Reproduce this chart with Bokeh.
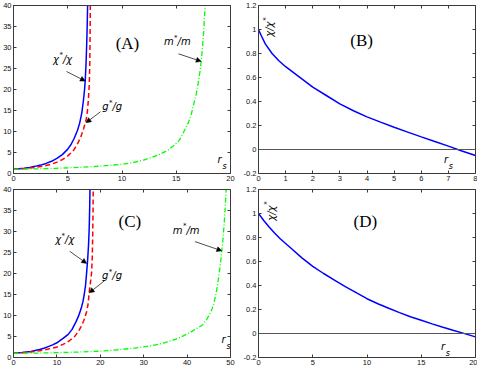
import math
from bokeh.plotting import figure
from bokeh.layouts import gridplot
from bokeh.models import (Range1d, LinearAxis, FixedTicker, Arrow, NormalHead, Span,
                          PrintfTickFormatter, CustomJSTickFormatter)
from bokeh.core.properties import value
from bokeh.embed import file_html
from bokeh.resources import INLINE

# ---------------- data ----------------
# Panel A
a_chi_rs = [0, 0.5, 1, 1.5, 2, 2.5, 3, 3.5, 4, 4.5, 5, 5.3, 5.6, 5.9, 6.1, 6.3, 6.45, 6.55, 6.62, 6.7, 6.76, 6.8, 6.83]
a_chi = [1.0, 1.12, 1.27, 1.45, 1.7, 2.0, 2.4, 2.9, 3.6, 4.5, 5.8, 6.9, 8.4, 10.3, 12.0, 14.5, 17.5, 20.0, 22.5, 27.0, 32.0, 36.0, 40.0]
a_g_rs = [0, 1, 2, 3, 3.5, 4, 4.5, 5, 5.5, 5.8, 6.0, 6.23, 6.45, 6.68, 6.8, 6.9, 6.98, 7.03, 7.06, 7.08]
a_g = [1.0, 1.18, 1.45, 1.9, 2.2, 2.7, 3.3, 4.2, 5.4, 6.6, 7.6, 8.9, 10.6, 12.6, 14.5, 17.5, 21.0, 26.0, 33.0, 40.0]
a_m_rs = [0, 2, 4, 6, 8, 10, 11, 12, 12.7, 13.5, 14.2, 14.9, 15.3, 15.65, 16.1, 16.4, 16.55, 16.85, 17.05, 17.2, 17.3, 17.42, 17.52, 17.6, 17.66]
a_m = [1.0, 1.1, 1.25, 1.45, 1.75, 2.2, 2.6, 3.2, 3.8, 4.6, 5.5, 6.9, 8.0, 9.7, 12.0, 14.2, 15.9, 19.0, 22.0, 24.5, 26.8, 30.0, 33.5, 37.0, 40.0]

# Panel B
b_rs = [0, 0.1, 0.25, 0.5, 0.75, 1, 1.5, 2, 2.5, 3, 3.5, 4, 4.5, 5, 5.5, 6, 6.5, 7, 7.5, 8]
b_val = [1.0, 0.95, 0.88, 0.80, 0.74, 0.69, 0.605, 0.52, 0.45, 0.38, 0.323, 0.272, 0.228, 0.185, 0.145, 0.105, 0.066, 0.028, -0.013, -0.05]

# Panel C
c_chi_rs = [0, 2, 4, 6, 7, 8, 9, 10, 10.7, 11.5, 12.6, 13.5, 14.45, 15, 15.6, 16, 16.3, 16.6, 16.85, 17.1, 17.3, 17.45, 17.55, 17.62]
c_chi = [1.0, 1.2, 1.45, 1.9, 2.2, 2.6, 3.0, 3.5, 4.0, 4.6, 5.5, 6.7, 8.6, 9.9, 11.7, 13.3, 15.0, 17.2, 20.2, 23.5, 27.0, 31.0, 35.5, 40.0]
c_g_rs = [0, 3, 6, 8, 10, 10.7, 12, 13, 14, 14.45, 15, 15.6, 16.2, 16.85, 17.2, 17.45, 17.75, 18.0, 18.15, 18.25, 18.32, 18.37]
c_g = [1.0, 1.2, 1.6, 2.0, 2.5, 2.8, 3.4, 4.1, 4.9, 5.5, 6.3, 7.4, 8.8, 10.9, 12.8, 15.6, 18.0, 20.2, 24.0, 29.0, 34.0, 40.0]
c_m_rs = [0, 5, 10, 15, 20, 24.2, 28, 31.7, 34.5, 37.3, 39, 40.6, 42.2, 43.6, 44.6, 45.5, 46.1, 46.6, 47.0, 47.4, 47.75, 48.0, 48.3, 48.55, 48.8, 49.0]
c_m = [1.0, 1.05, 1.15, 1.3, 1.5, 1.85, 2.25, 2.8, 3.4, 4.3, 5.1, 5.9, 6.9, 7.8, 9.2, 10.9, 12.6, 14.8, 17.2, 20.0, 23.0, 25.4, 28.5, 32.0, 36.0, 40.0]

# Panel D
d_rs = [0, 0.5, 1, 1.5, 2, 2.5, 3, 4, 5, 6, 7, 8, 9, 10, 11, 12, 13, 14, 15, 16, 17, 18, 19, 20]
d_val = [1.0, 0.94, 0.885, 0.835, 0.79, 0.75, 0.71, 0.63, 0.56, 0.50, 0.445, 0.39, 0.34, 0.29, 0.248, 0.21, 0.174, 0.14, 0.11, 0.08, 0.052, 0.025, -0.001, -0.028]

# ticks
a_xticks = [0, 5, 10, 15, 20]
ac_yticks = [0, 5, 10, 15, 20, 25, 30, 35, 40]
b_xticks = [0, 1, 2, 3, 4, 5, 6, 7, 8]
bd_yticks = [-0.2, 0, 0.2, 0.4, 0.6, 0.8, 1.0, 1.2]
c_xticks = [0, 10, 20, 30, 40, 50]
d_xticks = [0, 5, 10, 15, 20]

panel_names = ["(A)", "(B)", "(C)", "(D)"]

# ---------------- styling ----------------
FRAME = "#3a3a3a"
SANS = "Liberation Sans"
LBL = "DejaVu Sans"
SERIF = "Liberation Serif"
BLUE = "#0000ff"
RED = "#ff0000"
GREEN = "#00ff00"


def make_fig(xr, yr, xt, yt, left, right, top, bottom, fw, fh):
    p = figure(x_range=Range1d(*xr), y_range=Range1d(*yr),
               frame_width=fw, frame_height=fh,
               min_border_left=left, min_border_right=right,
               min_border_top=top, min_border_bottom=bottom,
               toolbar_location=None, output_backend="svg",
               x_axis_type=None, y_axis_type=None)
    p.outline_line_color = None
    p.background_fill_color = "white"
    p.border_fill_color = "white"
    for loc, ticks, show in [("below", xt, True), ("left", yt, True),
                             ("above", xt, False), ("right", yt, False)]:
        ax = LinearAxis(ticker=FixedTicker(ticks=ticks))
        ax.axis_line_color = FRAME
        ax.axis_line_width = 1
        ax.major_tick_line_color = FRAME
        ax.major_tick_in = 3
        ax.major_tick_out = 0
        ax.minor_tick_line_color = None
        if show:
            ax.formatter = PrintfTickFormatter(format="%g")
            ax.major_label_text_font = SANS
            ax.major_label_text_font_size = "7.5px"
            ax.major_label_text_color = "#111111"
            ax.major_label_standoff = 2
        else:
            ax.formatter = CustomJSTickFormatter(code="return ''")
            ax.major_label_text_font_size = "0px"
            ax.major_label_standoff = 0
        p.add_layout(ax, loc)
    return p


def panel_label(p, x, y, t):
    p.text(x=[x], y=[y], text=[t], text_font=value(SERIF), text_font_size="17px",
           text_align="center", text_baseline="middle", text_color="black")


def star_label(p, x, y, base, tail, wbase):
    kw = dict(text_font=value(LBL), text_font_style="italic", text_color="black",
              text_baseline="middle", text_align="left")
    p.text(x=[x], y=[y], text=[base], text_font_size="10px", **kw)
    p.text(x=[x], y=[y], text=["*"], text_font_size="7px", x_offset=wbase + 0.5, y_offset=-4, **kw)
    p.text(x=[x], y=[y], text=[tail], text_font_size="10px", x_offset=wbase + 4, **kw)


def rot_label(p, x, y):
    kw = dict(text_font=value(LBL), text_font_style="italic", text_color="black",
              text_baseline="middle", text_align="left", angle=math.pi / 2)
    p.text(x=[x], y=[y], text=["χ/χ"], text_font_size="10px", **kw)
    p.text(x=[x], y=[y], text=["*"], text_font_size="7px", x_offset=-4, y_offset=-16, **kw)


def rs_label(p, x, y):
    kw = dict(text_font=value(LBL), text_font_style="italic", text_color="black",
              text_baseline="middle", text_align="center")
    p.text(x=[x], y=[y], text=["r"], text_font_size="10px", **kw)
    p.text(x=[x], y=[y], text=["s"], text_font_size="8px", x_offset=5, y_offset=7, **kw)


def arrow(p, x0, y0, x1, y1):
    p.add_layout(Arrow(end=NormalHead(size=5, fill_color="black", line_color="black", line_width=0.5),
                       x_start=x0, y_start=y0, x_end=x1, y_end=y1,
                       line_color="black", line_width=0.7))


FW_L, FW_R, FH = 217, 217, 168

# Panel A
pA = make_fig((0, 20), (0, 40), a_xticks, ac_yticks, 12, 10, 5, 11, FW_L, FH)
pA.line(a_chi_rs, a_chi, line_color=BLUE, line_width=1.5)
pA.line(a_g_rs, a_g, line_color=RED, line_width=1.5, line_dash="5 3")
pA.line(a_m_rs, a_m, line_color=GREEN, line_width=1.3, line_dash="5 2 1 2")
panel_label(pA, 10.5, 31, panel_names[0])
star_label(pA, 3.65, 27.2, "χ", "/χ", 5.9)
star_label(pA, 8.17, 15.9, "g", "/g", 6.3)
star_label(pA, 13.86, 31.4, "m", "/m", 9.7)
arrow(pA, 4.88, 24.3, 6.62, 22.0)
arrow(pA, 8.02, 14.7, 6.68, 12.1)
arrow(pA, 15.2, 28.5, 17.3, 26.7)
rs_label(pA, 19.0, 3.4)

# Panel B
pB = make_fig((0, 8), (-0.2, 1.2), b_xticks, bd_yticks, 17, 2, 5, 11, FW_R, FH)
pB.add_layout(Span(location=0, dimension="width", line_color="#555555", line_width=1))
pB.line(b_rs, b_val, line_color=BLUE, line_width=1.5)
panel_label(pB, 3.8, 0.91, panel_names[1])
rot_label(pB, 0.42, 0.94)
rs_label(pB, 6.91, -0.08)

# Panel C
pC = make_fig((0, 50), (0, 40), c_xticks, ac_yticks, 12, 10, 5, 11, FW_L, FH)
pC.line(c_chi_rs, c_chi, line_color=BLUE, line_width=1.5)
pC.line(c_g_rs, c_g, line_color=RED, line_width=1.5, line_dash="5 3")
pC.line(c_m_rs, c_m, line_color=GREEN, line_width=1.3, line_dash="5 2 1 2")
panel_label(pC, 26.8, 32.3, panel_names[2])
star_label(pC, 9.6, 28.0, "χ", "/χ", 5.9)
star_label(pC, 20.4, 19.5, "g", "/g", 6.3)
star_label(pC, 36.7, 30.3, "m", "/m", 9.7)
arrow(pC, 12.95, 25.3, 16.85, 22.4)
arrow(pC, 21.0, 18.3, 17.45, 15.4)
arrow(pC, 41.8, 27.6, 48.0, 25.4)
rs_label(pC, 48.4, 4.3)

# Panel D
pD = make_fig((0, 20), (-0.2, 1.2), d_xticks, bd_yticks, 17, 2, 5, 11, FW_R, FH)
pD.add_layout(Span(location=0, dimension="width", line_color="#555555", line_width=1))
pD.line(d_rs, d_val, line_color=BLUE, line_width=1.5)
panel_label(pD, 9.85, 0.93, panel_names[3])
rot_label(pD, 1.18, 0.94)
rs_label(pD, 17.0, -0.108)

grid = gridplot([[pA, pB], [pC, pD]], toolbar_location=None)

open("out.html", "w").write(file_html(grid, INLINE))
